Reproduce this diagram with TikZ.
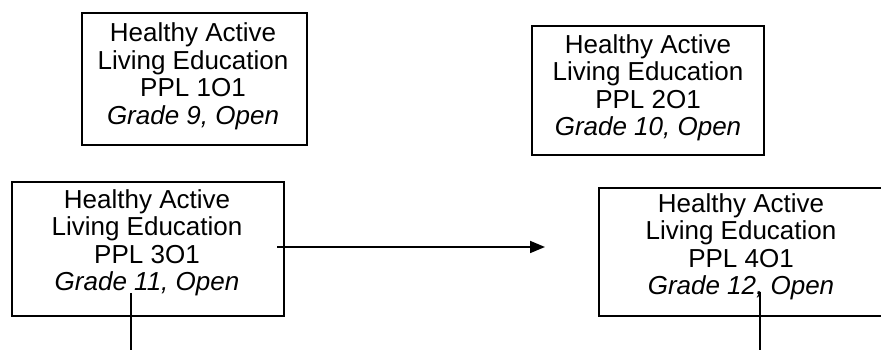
\documentclass[tikz,border=0pt]{standalone}
\usepackage{fontspec}
\setmainfont{Liberation Sans}
\usetikzlibrary{arrows.meta}
\begin{document}
\begin{tikzpicture}[x=1pt,y=1pt,
  boxshape/.style={draw=black, line width=2.2pt, fill=none, inner sep=0pt, anchor=north west},
  boxtext/.style={align=center, inner sep=0pt, anchor=north, font=\fontsize{26}{27.5}\selectfont},
  conn/.style={line width=1.8pt, black}]
\useasboundingbox (0,0) rectangle (881,350);
\begin{scope}
\clip (0,0) rectangle (881,350);
% boxes
\node[boxshape, minimum width=225pt, minimum height=132pt] (b1) at (81,338) {};
\node[boxshape, minimum width=232pt, minimum height=129pt] (b2) at (531,325) {};
\node[boxshape, minimum width=272pt, minimum height=134pt] (b3) at (11,169) {};
\node[boxshape, minimum width=287pt, minimum height=128pt] (b4) at (598,163) {};
\end{scope}
% texts
\node[boxtext] (t1) at (193,327.5) {Healthy Active\\Living Education\\PPL 1O1\\\textit{Grade 9, Open}};
\node[boxtext] (t2) at (648,316) {Healthy Active\\Living Education\\PPL 2O1\\\textit{Grade 10, Open}};
\node[boxtext] (t3) at (147,161) {Healthy Active\\Living Education\\PPL 3O1\\\textit{Grade 11, Open}};
\node[boxtext] (t4) at (741,157) {Healthy Active\\Living Education\\PPL 4O1\\\textit{Grade 12, Open}};
% connectors
\coordinate (a1) at (277,103);
\coordinate (a2) at (545,103);
\coordinate (l1s) at (130.7,57);
\coordinate (l1e) at (130.7,0);
\coordinate (l2s) at (760.2,58);
\coordinate (l2e) at (760.2,0);
\draw[conn, -{Triangle[length=15pt,width=12pt]}] (a1) -- (a2);
\draw[conn] (l1s) -- (l1e);
\draw[conn] (l2s) -- (l2e);
\end{tikzpicture}
\end{document}
